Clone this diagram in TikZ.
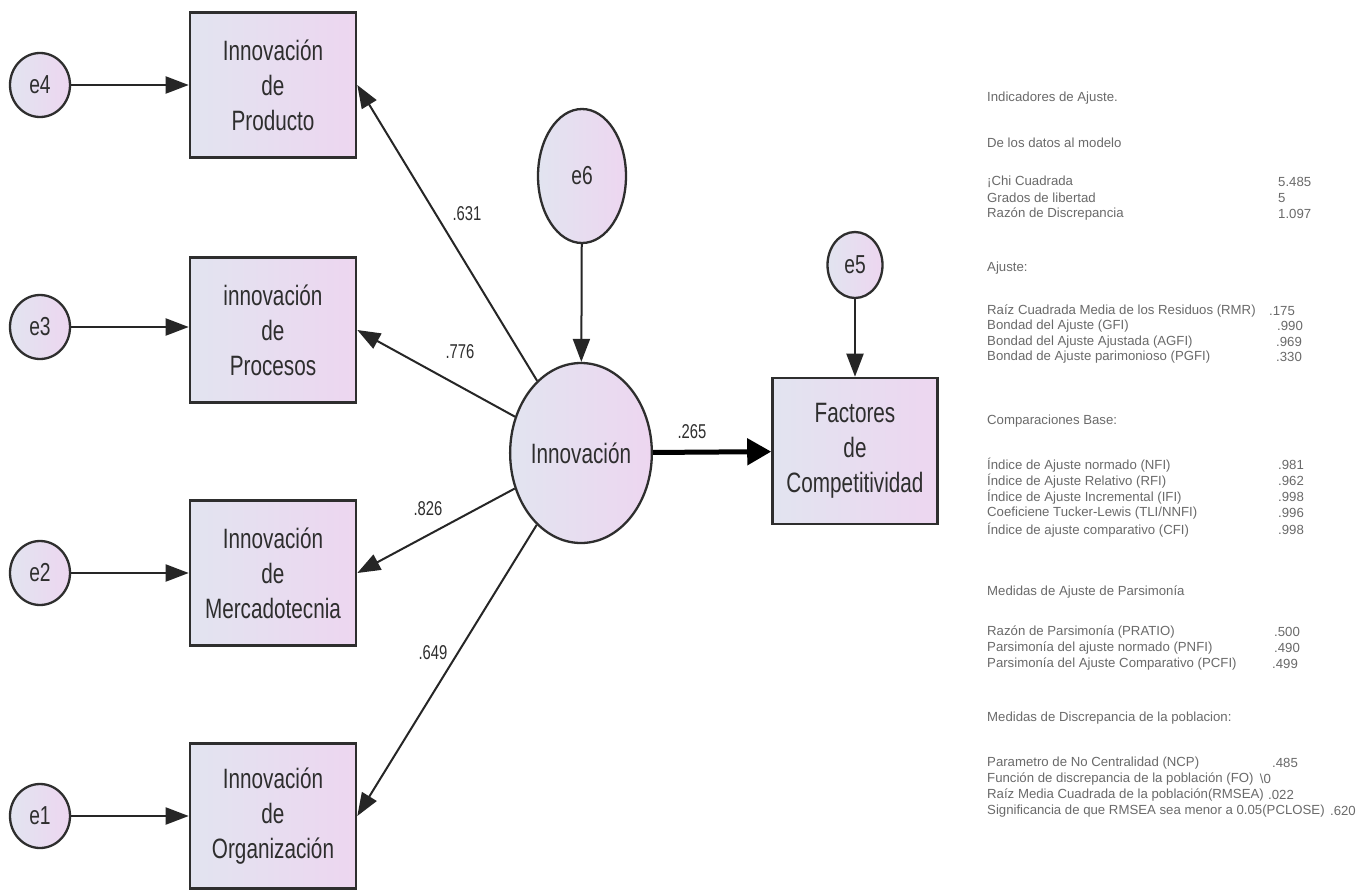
\documentclass[tikz,border=0pt]{standalone}
\usepackage{fontspec}
\setmainfont{Liberation Sans}
\newfontfamily\narrowfont[FakeStretch=0.74]{Liberation Sans}
\usetikzlibrary{shapes.geometric,arrows.meta}
\definecolor{edge}{HTML}{2E2E2E}
\definecolor{txt}{HTML}{2E2E2E}
\definecolor{fillA}{HTML}{E2E4F0}
\definecolor{fillB}{HTML}{EDD6F0}
\definecolor{panelgray}{HTML}{6A6A6A}
\tikzset{
  varbox/.style={draw=edge, line width=2.6pt, minimum width=166pt, minimum height=145pt,
    inner sep=0pt, align=center, text=txt, left color=fillA, right color=fillB,
    font=\narrowfont\fontsize{28}{35}\selectfont},
  errnode/.style={ellipse, draw=edge, line width=2.3pt, inner sep=0pt, text=txt,
    left color=fillA, right color=fillB, font=\narrowfont\fontsize{26}{30}\selectfont},
  arr/.style={draw=black!85, line width=2pt, -{Triangle[length=23pt,width=17pt]}},
  bigarr/.style={draw=black, line width=5pt, -{Triangle[length=24pt,width=26pt]}},
  coef/.style={text=txt, font=\narrowfont\fontsize{20}{22}\selectfont, inner sep=0pt},
  panel/.style={anchor=west, inner sep=0pt, text=panelgray, font=\fontsize{13.2}{15}\selectfont}
}
\begin{document}
\begin{tikzpicture}[x=1pt,y=-1pt]
\useasboundingbox (0,0) rectangle (1369,892);
\fill[white] (0,0) rectangle (1369,892);

% observed indicators
\node[varbox] (prod) at (273,85)  {Innovación\\de\\Producto};
\node[varbox] (proc) at (273,330) {innovación\\de\\Procesos};
\node[varbox] (merc) at (273,573) {Innovación\\de\\Mercadotecnia};
\node[varbox] (orga) at (273,816) {Innovación\\de\\Organización};
\node[varbox, minimum width=165pt, minimum height=146pt] (fact) at (855,451) {Factores\\de\\Competitividad};

% error terms
\node[errnode, minimum width=60pt, minimum height=64pt] (e4) at (40,85)  {e4};
\node[errnode, minimum width=60pt, minimum height=64pt] (e3) at (40,327) {e3};
\node[errnode, minimum width=60pt, minimum height=64pt] (e2) at (40,573) {e2};
\node[errnode, minimum width=60pt, minimum height=64pt] (e1) at (40,816) {e1};
\node[errnode, minimum width=88pt, minimum height=134pt] (e6) at (582,176) {e6};
\node[errnode, minimum width=55pt, minimum height=66pt] (e5) at (855,265) {e5};

% latent construct
\node[errnode, minimum width=104pt, minimum height=180pt, font=\narrowfont\fontsize{28}{30}\selectfont] (inn) at (581,453) {Innovación};

% error paths
\draw[arr] (e4) -- (prod);
\draw[arr] (e3.east) -- (e3.east -| proc.west);
\draw[arr] (e2) -- (merc);
\draw[arr] (e1) -- (orga);
\draw[arr] (e6) -- (inn);
\draw[arr] (e5) -- (fact);

% loadings
\draw[arr] (inn) -- (prod.east);
\draw[arr] (inn) -- (proc.east);
\draw[arr] (inn) -- (merc.east);
\draw[arr] (inn) -- (orga.east);
\draw[bigarr] (inn) -- (fact);

\node[coef] (c1) at (467,214) {.631};
\node[coef] (c2) at (460,352) {.776};
\node[coef] (c3) at (428,509) {.826};
\node[coef] (c4) at (433,653) {.649};
\node[coef] (c5) at (692,432) {.265};

% fit indices
\foreach \yy/\ss [count=\i] in {
  98/{Indicadores de Ajuste.},
  143/{De los datos al modelo},
  182/{¡Chi Cuadrada},
  198/{Grados de libertad},
  214/{Razón de Discrepancia},
  268/{Ajuste:},
  311/{Raíz Cuadrada Media de los Residuos (RMR)},
  326/{Bondad del Ajuste (GFI)},
  342/{Bondad del Ajuste Ajustada (AGFI)},
  357/{Bondad de Ajuste parimonioso (PGFI)},
  421/{Comparaciones Base:},
  465/{Índice de Ajuste normado (NFI)},
  481/{Índice de Ajuste Relativo (RFI)},
  497/{Índice de Ajuste Incremental (IFI)},
  513/{Coeficiene Tucker-Lewis (TLI/NNFI)},
  530/{Índice de ajuste comparativo (CFI)},
  592/{Medidas de Ajuste de Parsimonía},
  632/{Razón de Parsimonía (PRATIO)},
  648/{Parsimonía del ajuste normado (PNFI)},
  664/{Parsimonía del Ajuste Comparativo (PCFI)},
  718/{Medidas de Discrepancia de la poblacion:},
  763/{Parametro de No Centralidad (NCP)},
  779/{Función de discrepancia de la población (FO)},
  795/{Raíz Media Cuadrada de la población(RMSEA)},
  811/{Significancia de que RMSEA sea menor a 0.05(PCLOSE)}}
  \node[panel] (lab\i) at (987,\yy) {\ss};

% values in a column
\foreach \xx/\yy/\vv [count=\i] in {
  1278/182/{5.485}, 1278/198/{5}, 1278/214/{1.097},
  1269/311/{.175}, 1277/326/{.990}, 1276/342/{.969}, 1276/357/{.330},
  1278/465/{.981}, 1278/481/{.962}, 1278/497/{.998}, 1278/513/{.996}, 1278/530/{.998},
  1274/632/{.500}, 1274/648/{.490}, 1272/664/{.499},
  1272/763/{.485}}
  \node[panel] (val\i) at (\xx,\yy) {\vv};

% values that follow their label directly
\node[panel] (valfo)    at ([xshift=6pt]lab23.east) {\textbackslash0};
\node[panel] (valrmsea) at ([xshift=4pt]lab24.east) {.022};
\node[panel] (valpclo)  at ([xshift=5pt]lab25.east) {.620};
\end{tikzpicture}
\end{document}
